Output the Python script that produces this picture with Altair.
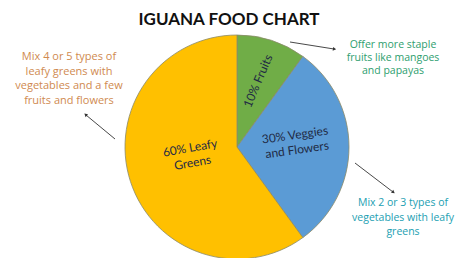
import altair as alt
import pandas as pd

categories = ["Fruits", "Veggies and Flowers", "Leafy Greens"]
shares = [10, 30, 60]
colors = ["#70AD47", "#5B9BD5", "#FFC000"]

title_text = "IGUANA FOOD CHART"
left_note = ["Mix 4 or 5 types of", "leafy greens with", "vegetables and a few", "fruits and flowers"]
top_note = ["Offer more staple", "fruits like mangoes", "and papayas"]
bottom_note = ["Mix 2 or 3 types of", "vegetables with leafy", "greens"]

df = pd.DataFrame({"category": categories, "share": shares, "order": [0, 1, 2]})

W, H = 458, 250
CX, CY, R = 229, 139, 112

pie = alt.Chart(df).mark_arc(radius=R, stroke="#8a8a6a", strokeWidth=0.8).encode(
    theta=alt.Theta("share:Q", stack=True),
    order=alt.Order("order:Q"),
    color=alt.Color("category:N", scale=alt.Scale(domain=categories, range=colors), legend=None),
    x=alt.value(CX), y=alt.value(CY),
)

base = alt.Chart(df)
font = "Lato"
lab_col = "#1F2A44"

fruit_lbl = base.transform_filter(alt.datum.category == "Fruits").mark_text(
    font=font, fontSize=12, color=lab_col, angle=293
).encode(text=alt.value("10% Fruits"), x=alt.value(CX + 21), y=alt.value(CY - 66))

veg_lbl = base.transform_filter(alt.datum.category == "Veggies and Flowers").mark_text(
    font=font, fontSize=12, color=lab_col, angle=352, lineHeight=15
).encode(text=alt.value(["30% Veggies", "and Flowers"]), x=alt.value(CX + 58), y=alt.value(CY - 12))

leaf_lbl = base.transform_filter(alt.datum.category == "Leafy Greens").mark_text(
    font=font, fontSize=12, color=lab_col, angle=350, lineHeight=15
).encode(text=alt.value(["60% Leafy", "Greens"]), x=alt.value(CX - 47), y=alt.value(CY + 1))

title = base.transform_filter(alt.datum.order == 0).mark_text(
    font=font, fontSize=17, fontWeight="bold", color="#111111", baseline="middle"
).encode(text=alt.value(title_text), x=alt.value(221), y=alt.value(12))

note_font = "Open Sans"
left_txt = base.transform_filter(alt.datum.order == 0).mark_text(
    font=note_font, fontSize=11, color="#D08A50", lineHeight=14.5, baseline="middle"
).encode(text=alt.value(left_note), x=alt.value(61), y=alt.value(49))

top_txt = base.transform_filter(alt.datum.order == 0).mark_text(
    font=note_font, fontSize=10.5, color="#2E9E6E", lineHeight=12.8, baseline="middle"
).encode(text=alt.value(top_note), x=alt.value(385), y=alt.value(37))

bot_txt = base.transform_filter(alt.datum.order == 0).mark_text(
    font=note_font, fontSize=10.5, color="#22A0B2", lineHeight=14.5, baseline="middle"
).encode(text=alt.value(bottom_note), x=alt.value(395), y=alt.value(195))

arrow_col = "#333333"

def arrow(x1, y1, x2, y2, ang):
    line = base.transform_filter(alt.datum.order == 0).mark_rule(color=arrow_col, strokeWidth=0.9).encode(
        x=alt.value(x1), y=alt.value(y1), x2=alt.value(x2), y2=alt.value(y2))
    head = base.transform_filter(alt.datum.order == 0).mark_point(
        shape="triangle", filled=True, size=14, color=arrow_col, angle=ang, opacity=1).encode(
        x=alt.value(x2), y=alt.value(y2))
    return line + head

a1 = arrow(107, 131, 78, 107, 310)
a2 = arrow(282, 34, 326, 41, 99)
a3 = arrow(347, 155, 385, 184, 127)

chart = alt.layer(pie, fruit_lbl, veg_lbl, leaf_lbl, title, left_txt, top_txt, bot_txt, a1, a2, a3).properties(
    width=W, height=H, padding=0, autosize=alt.AutoSizeParams(type="none")
).configure_view(stroke=None)

chart.save("out.html", embed_options={"renderer": "svg", "actions": False})
